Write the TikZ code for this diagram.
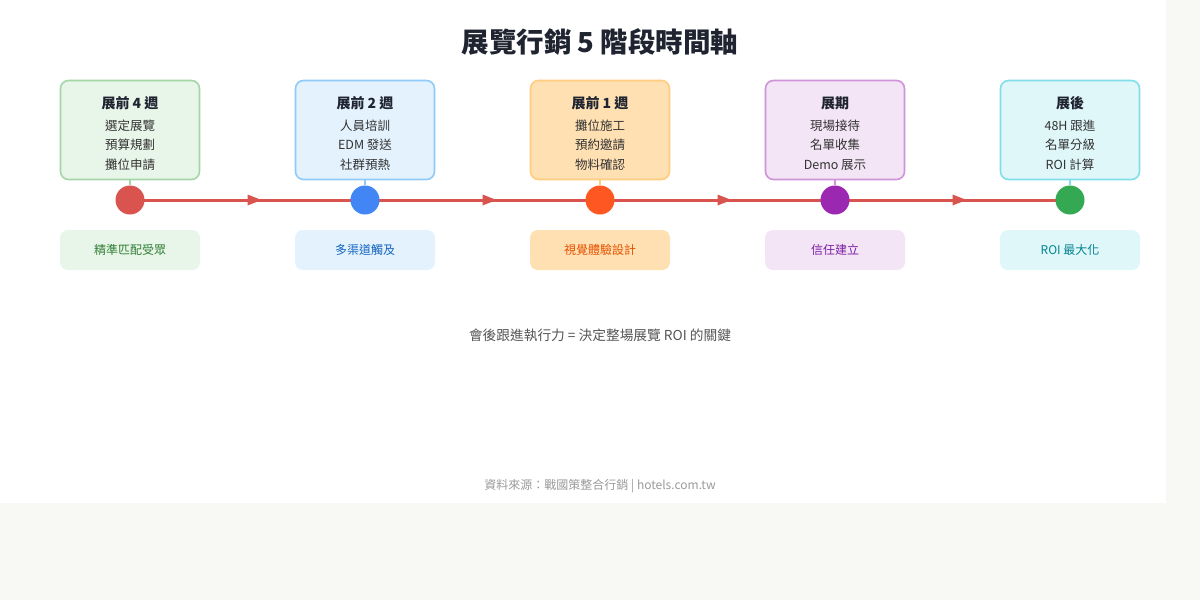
\documentclass[tikz,border=0pt]{standalone}
\usepackage{fontspec}
\setmainfont{Noto Sans CJK TC}
\usetikzlibrary{arrows.meta,decorations.markings}
\definecolor{pagebg}{HTML}{F8F8F4}
\definecolor{linered}{HTML}{D9534F}
\definecolor{titlec}{HTML}{1F2430}
\definecolor{itemc}{HTML}{333333}
\definecolor{notec}{HTML}{555555}
\definecolor{srcc}{HTML}{9A9A9A}
\definecolor{fA}{HTML}{E8F5E9}\definecolor{dA}{HTML}{A5D6A7}\definecolor{cA}{HTML}{D9534F}\definecolor{tA}{HTML}{2E7D32}
\definecolor{fB}{HTML}{E3F2FD}\definecolor{dB}{HTML}{90CAF9}\definecolor{cB}{HTML}{4285F4}\definecolor{tB}{HTML}{1565C0}
\definecolor{fC}{HTML}{FFE0B2}\definecolor{dC}{HTML}{FFCC80}\definecolor{cC}{HTML}{FF5722}\definecolor{tC}{HTML}{E65100}
\definecolor{fD}{HTML}{F3E5F5}\definecolor{dD}{HTML}{CE93D8}\definecolor{cD}{HTML}{9C27B0}\definecolor{tD}{HTML}{7B1FA2}
\definecolor{fE}{HTML}{E0F7FA}\definecolor{dE}{HTML}{80DEEA}\definecolor{cE}{HTML}{34A853}\definecolor{tE}{HTML}{00838F}
\tikzset{
  phasebox/.style={rounded corners=8pt, line width=1.6pt, minimum width=139pt, minimum height=99pt, inner sep=0pt},
  labbox/.style={rounded corners=8pt, minimum width=140pt, minimum height=40pt, inner sep=0pt, font=\fontsize{12}{14}\selectfont},
  headtxt/.style={font=\fontsize{14}{16}\selectfont\bfseries, text=titlec, inner sep=0pt},
  itemtxt/.style={font=\fontsize{12.5}{14}\selectfont, text=itemc, inner sep=0pt},
  dot/.style={circle, minimum size=29pt, inner sep=0pt},
  stub/.style={line width=1.6pt},
  timeline/.style={line width=3pt, draw=linered,
    postaction={decorate, decoration={markings,
      mark=at position 0.5 with {\fill[linered] (14pt,0) -- (0,5.5pt) -- (0,-5.5pt) -- cycle;}}}}
}
\begin{document}
\begin{tikzpicture}[x=1pt,y=-1pt]
\useasboundingbox (0,0) rectangle (1200,600);
\fill[pagebg] (0,0) rectangle (1200,600);
\fill[white] (0,0) rectangle (1166,503);
\node[font=\fontsize{27.5}{31}\selectfont\bfseries, text=titlec, inner sep=0pt] (title) at (600,42) {展覽行銷 5 階段時間軸};
\foreach \i/\x in {1/130,2/365,3/600,4/835,5/1070}{
  \coordinate (p\i) at (\x,200);
}
\foreach \i/\j in {1/2,2/3,3/4,4/5}{
  \draw[timeline] (p\i) -- (p\j);
}
\foreach \i/\x/\L/\head/\a/\b/\c/\lab in {
  1/130/A/展前 4 週/選定展覽/預算規劃/攤位申請/精準匹配受眾,
  2/365/B/展前 2 週/人員培訓/EDM 發送/社群預熱/多渠道觸及,
  3/600/C/展前 1 週/攤位施工/預約邀請/物料確認/視覺體驗設計,
  4/835/D/展期/現場接待/名單收集/Demo 展示/信任建立,
  5/1070/E/展後/48H 跟進/名單分級/ROI 計算/ROI 最大化}{
  \node[phasebox, fill=f\L, draw=d\L] (box\i) at (\x,130) {};
  \node[headtxt] (h\i) at (\x,103) {\head};
  \node[itemtxt] (ia\i) at (\x,126) {\a};
  \node[itemtxt] (ib\i) at (\x,145) {\b};
  \node[itemtxt] (ic\i) at (\x,165) {\c};
  \node[dot, fill=c\L] (dot\i) at (p\i) {};
  \draw[stub, draw=d\L] (box\i.south) -- (dot\i.north);
  \node[labbox, fill=f\L, text=t\L] (lab\i) at (\x,250) {\lab};
}
\node[font=\fontsize{13.7}{15}\selectfont, text=notec, inner sep=0pt] (note) at (600,335) {會後跟進執行力 = 決定整場展覽 ROI 的關鍵};
\node[font=\fontsize{12}{14}\selectfont, text=srcc, inner sep=0pt] (src) at (600,486) {資料來源：戰國策整合行銷 | hotels.com.tw};
\end{tikzpicture}
\end{document}
